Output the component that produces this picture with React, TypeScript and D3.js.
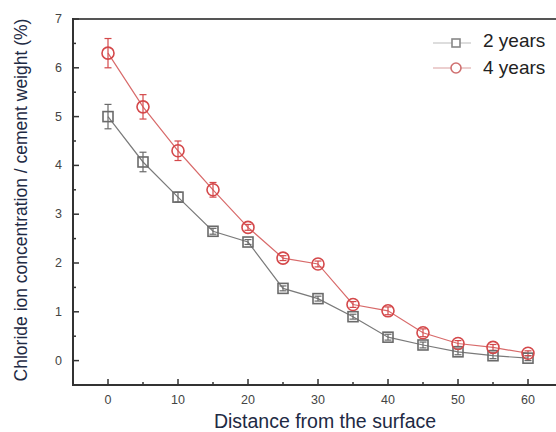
import React from "react";
import * as d3 from "d3";

const distances = [0, 5, 10, 15, 20, 25, 30, 35, 40, 45, 50, 55, 60];
const years2 = [5.0, 4.07, 3.35, 2.65, 2.43, 1.48, 1.27, 0.9, 0.48, 0.32, 0.18, 0.1, 0.05];
const years2Err = [0.25, 0.2, 0.1, 0.06, 0.05, 0.05, 0.05, 0.05, 0.06, 0.06, 0.06, 0.06, 0.05];
const years4 = [6.3, 5.2, 4.3, 3.5, 2.73, 2.1, 1.98, 1.15, 1.02, 0.57, 0.35, 0.27, 0.15];
const years4Err = [0.3, 0.25, 0.2, 0.15, 0.06, 0.05, 0.06, 0.06, 0.08, 0.08, 0.06, 0.06, 0.05];
const xTicks = [0, 10, 20, 30, 40, 50, 60];
const yTicks = [0, 1, 2, 3, 4, 5, 6, 7];
const seriesNames = ["2 years", "4 years"];

const W = 556;
const H = 432;
const left = 73;
const top = 19;
const bottom = 385;

export default function App() {
  const x = d3.scaleLinear().domain([-5, 65]).range([left, 563]);
  const y = d3.scaleLinear().domain([-0.5, 7]).range([bottom, top]);
  const line = d3
    .line<[number, number]>()
    .x((d) => x(d[0]))
    .y((d) => y(d[1]));

  const xMinor = d3.range(-5, 66, 5).filter((v) => v > -5 && !xTicks.includes(v));
  const yMinor = d3.range(-0.5, 7.01, 0.5).filter((v) => v > -0.5 && !yTicks.includes(v));

  const gray = "#6a6a6a";
  const grayLine = "#7a7a7a";
  const red = "#d4484a";
  const redLine = "#d86a6a";

  const s2 = distances.map((d, i) => [d, years2[i]] as [number, number]);
  const s4 = distances.map((d, i) => [d, years4[i]] as [number, number]);

  const errBars = (vals: number[], errs: number[], color: string) =>
    distances.map((d, i) => {
      const cx = x(d);
      const y1 = y(vals[i] + errs[i]);
      const y2 = y(vals[i] - errs[i]);
      return (
        <g key={i} stroke={color} strokeWidth={1.2}>
          <line x1={cx} x2={cx} y1={y1} y2={y2} />
          <line x1={cx - 3.5} x2={cx + 3.5} y1={y1} y2={y1} />
          <line x1={cx - 3.5} x2={cx + 3.5} y1={y2} y2={y2} />
        </g>
      );
    });

  return (
    <svg
      width={W}
      height={H}
      style={{ position: "absolute", left: 0, top: 0, background: "#fff" }}
      fontFamily="'Liberation Sans', Arial, sans-serif"
    >
      {/* frame */}
      <line x1={left} x2={W} y1={top} y2={top} stroke="#555" strokeWidth={2} />
      <line x1={left} x2={left} y1={top - 1} y2={bottom + 1} stroke="#333" strokeWidth={2} />
      <line x1={left - 1} x2={W} y1={bottom} y2={bottom} stroke="#333" strokeWidth={2} />

      {/* x ticks */}
      {xTicks.map((t) => (
        <g key={"xt" + t}>
          <line x1={x(t)} x2={x(t)} y1={bottom} y2={bottom - 6} stroke="#333" strokeWidth={1.5} />
          <text x={x(t)} y={bottom + 19} textAnchor="middle" fontSize={12.5} fill="#444">
            {t}
          </text>
        </g>
      ))}
      {xMinor.map((t) => (
        <line key={"xm" + t} x1={x(t)} x2={x(t)} y1={bottom} y2={bottom - 3} stroke="#333" strokeWidth={1.5} />
      ))}

      {/* y ticks */}
      {yTicks.map((t) => (
        <g key={"yt" + t}>
          <line x1={left} x2={left + 6} y1={y(t)} y2={y(t)} stroke="#333" strokeWidth={1.5} />
          <text x={left - 11} y={y(t) + 4} textAnchor="end" fontSize={12.5} fill="#444">
            {t}
          </text>
        </g>
      ))}
      {yMinor.map((t) => (
        <line key={"ym" + t} x1={left} x2={left + 3} y1={y(t)} y2={y(t)} stroke="#333" strokeWidth={1.5} />
      ))}

      {/* series lines */}
      <path d={line(s2) || ""} fill="none" stroke={grayLine} strokeWidth={1.2} />
      <path d={line(s4) || ""} fill="none" stroke={redLine} strokeWidth={1.2} />

      {/* error bars */}
      {errBars(years2, years2Err, gray)}
      {errBars(years4, years4Err, red)}

      {/* markers */}
      {s2.map((d, i) => (
        <rect
          key={"sq" + i}
          x={x(d[0]) - 5}
          y={y(d[1]) - 5}
          width={10}
          height={10}
          fill="none"
          stroke={gray}
          strokeWidth={1.6}
        />
      ))}
      {s4.map((d, i) => (
        <circle key={"c" + i} cx={x(d[0])} cy={y(d[1])} r={6} fill="none" stroke={red} strokeWidth={1.6} />
      ))}

      {/* legend */}
      <g>
        <line x1={433} x2={471} y1={43} y2={43} stroke="#bbb" strokeWidth={1.2} />
        <rect x={452} y={39} width={8} height={8} fill="#fff" stroke="#888" strokeWidth={1.6} />
        <text x={483} y={47} fontSize={19} fill="#222">
          {seriesNames[0]}
        </text>
        <line x1={433} x2={471} y1={68} y2={68} stroke="#d9a0a0" strokeWidth={1.2} />
        <circle cx={456} cy={68} r={5} fill="#fff" stroke="#d07070" strokeWidth={1.6} />
        <text x={483} y={74} fontSize={19} fill="#222">
          {seriesNames[1]}
        </text>
      </g>

      {/* axis titles */}
      <text x={325} y={428} textAnchor="middle" fontSize={19.5} fill="#1e2a44">
        Distance from the surface
      </text>
      <text
        transform={`translate(27, 200) rotate(-90)`}
        textAnchor="middle"
        fontSize={17.5}
        fill="#1e2a44"
      >
        Chloride ion concentration / cement weight (%)
      </text>
    </svg>
  );
}
